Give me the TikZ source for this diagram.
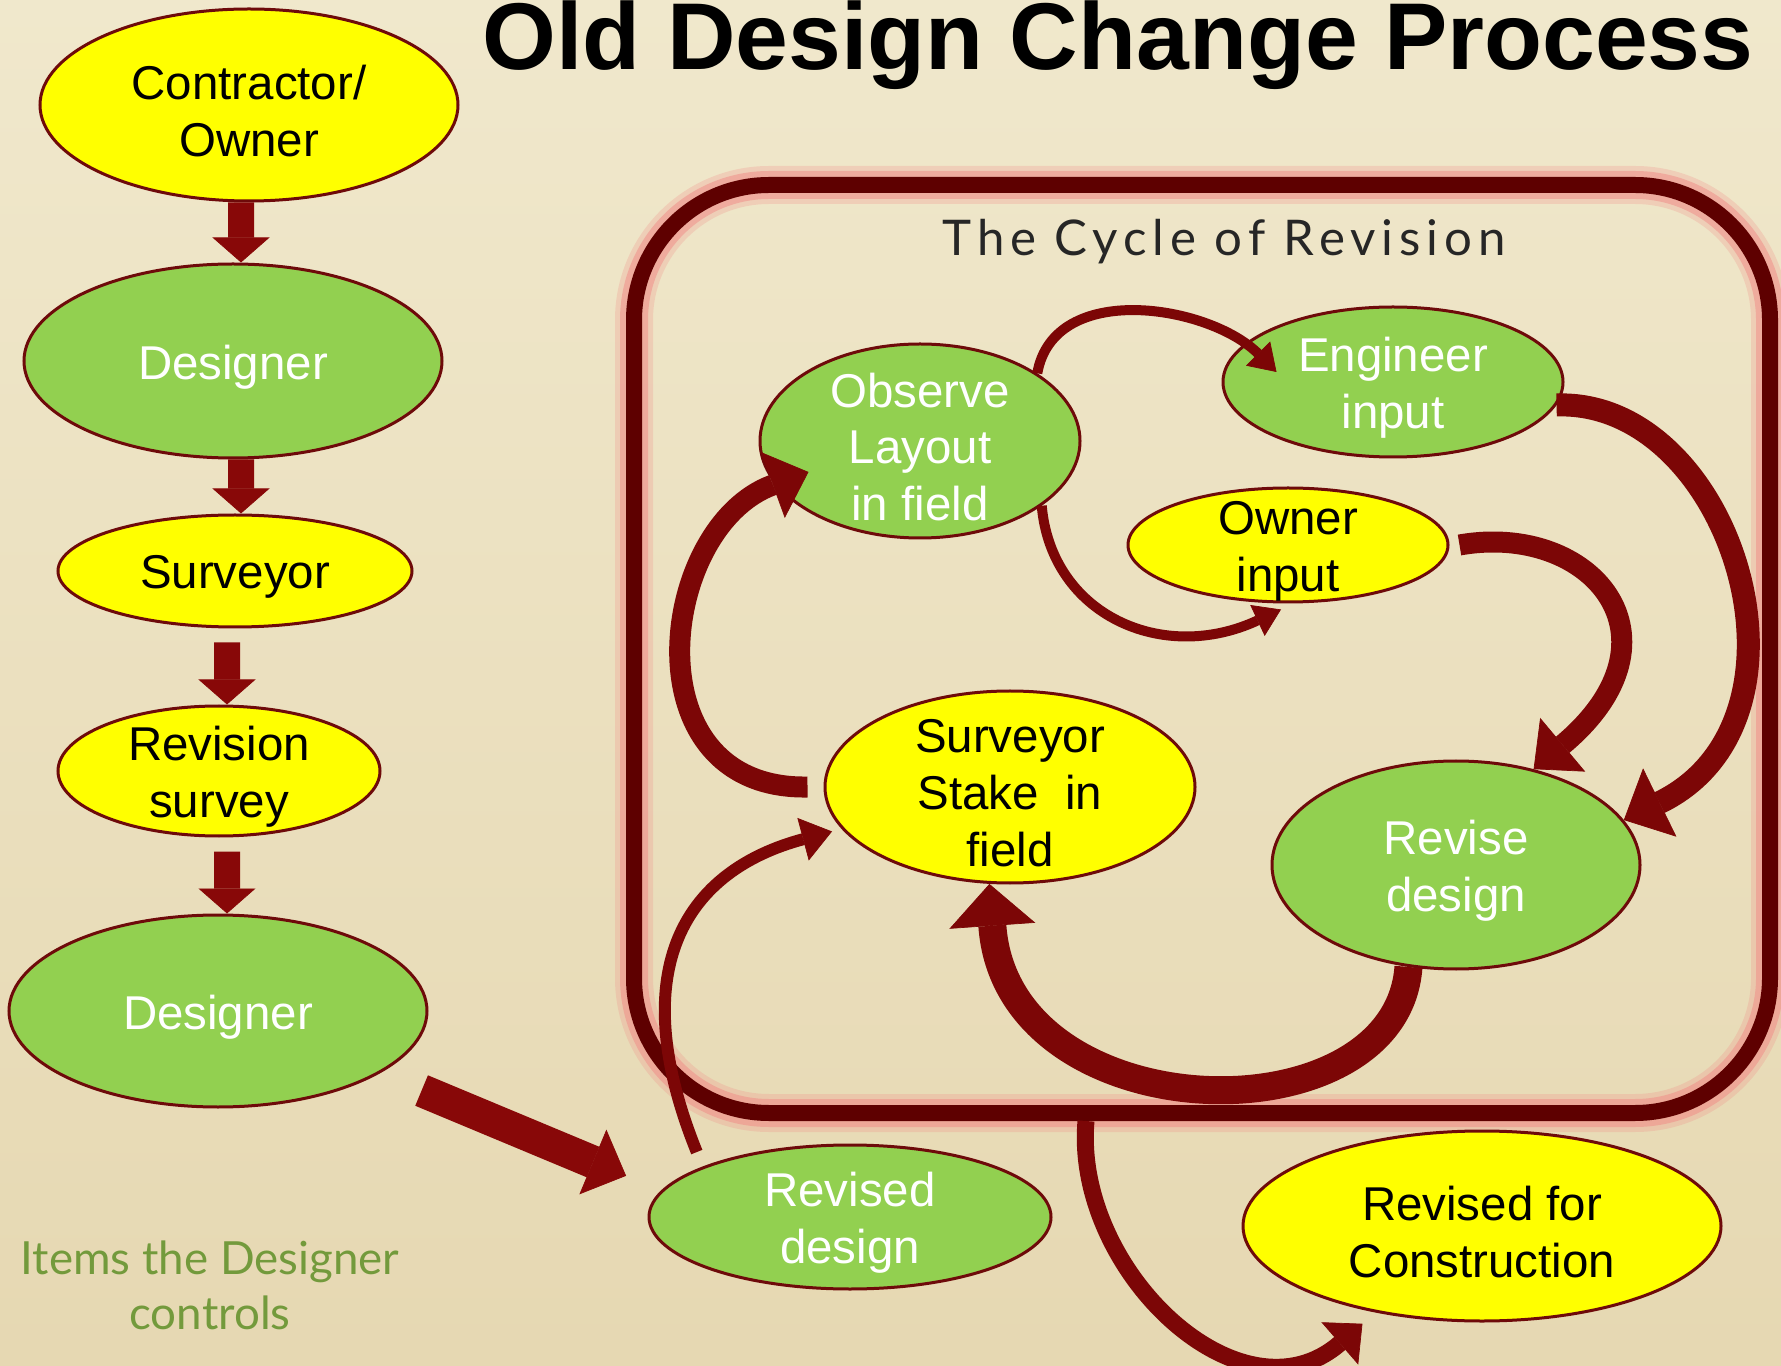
\documentclass[tikz,border=0pt]{standalone}
\usepackage{fontspec}
\setmainfont{Liberation Sans}
\newfontfamily\cyclefont[LetterSpace=12]{Lato}
\newfontfamily\notefont{Lato}
\usetikzlibrary{shapes.geometric,arrows.meta}

\definecolor{leaf}{HTML}{92D050}
\definecolor{lemon}{HTML}{FFFF00}
\definecolor{rimred}{HTML}{6E0A0A}
\definecolor{arrowred}{HTML}{880808}
\definecolor{bendred}{HTML}{7C0606}
\definecolor{framered}{HTML}{5E0000}
\definecolor{halored}{HTML}{F08A86}
\definecolor{notegreen}{HTML}{739A3C}
\definecolor{papertop}{HTML}{F0E8CC}
\definecolor{papermid}{HTML}{F5F0DC}
\definecolor{paperbot}{HTML}{E6D8B2}

\begin{document}
\begin{tikzpicture}[
    every node/.style={font=\fontsize{13.5}{16.2}\selectfont},
    every label/.style={yshift=-0.6mm},
    oval/.style={ellipse, draw=rimred, line width=0.3mm, inner sep=0pt},
    green oval/.style={oval, fill=leaf},
    yellow oval/.style={oval, fill=lemon},
    on green/.style={text=white, align=center},
    on yellow/.style={text=black, align=center},
    down arrow/.style={draw=arrowred, line width=2.6mm,
      -{Triangle[width=5.7mm, length=2.5mm, line width=0.2pt]}},
    thin bend/.style={draw=bendred, line width=1mm,
      -{Triangle[width=3.4mm, length=2.6mm, line width=0.2pt]}},
    thick bend/.style={draw=bendred, line width=2.1mm,
      -{Triangle[width=7mm, length=3.8mm, line width=0.2pt]}}
  ]
  \shade[top color=papertop, middle color=papermid, bottom color=paperbot]
    (0,0) rectangle (17.81,-13.66);
  \useasboundingbox (0,0) rectangle (17.81,-13.66);

  \node[anchor=base, font=\fontsize{27}{32}\selectfont\bfseries] (title)
    at (11.18,-0.70) {Old Design Change Process};

  % left column
  \node[yellow oval, minimum width=4.18cm, minimum height=1.92cm,
    label={[on yellow]center:Contractor/\\Owner}] (cc) at (2.49,-1.05) {};
  \node[green oval, minimum width=4.18cm, minimum height=1.94cm,
    label={[on green]center:Designer}] (des1) at (2.33,-3.61) {};
  \node[yellow oval, minimum width=3.54cm, minimum height=1.12cm,
    label={[on yellow]center:Surveyor}] (surv) at (2.35,-5.71) {};
  \node[yellow oval, minimum width=3.22cm, minimum height=1.30cm,
    label={[on yellow]center:Revision\\survey}] (revsurv) at (2.19,-7.71) {};
  \node[green oval, minimum width=4.18cm, minimum height=1.92cm,
    label={[on green]center:Designer}] (des2) at (2.18,-10.11) {};

  \node[align=center, text=notegreen, font=\notefont\fontsize{13}{15.6}\selectfont]
    (note) at (2.10,-12.85) {Items the Designer\\controls};

  % cycle frame
  \node[draw=framered, line width=1.6mm, rounded corners=1.35cm,
    minimum width=11.36cm, minimum height=9.28cm,
    preaction={draw=halored, line width=3.8mm, opacity=0.25},
    preaction={draw=halored, line width=2.8mm, opacity=0.5}]
    (cyclebox) at (12.02,-6.49) {};
  \node[anchor=base, text=black!85, font=\cyclefont\fontsize{14}{17}\selectfont]
    (cycletitle) at (12.24,-2.56) {The Cycle of Revision};

  \node[green oval, minimum width=3.20cm, minimum height=1.94cm,
    label={[on green]center:Observe\\Layout\\in field}] (obs) at (9.20,-4.41) {};
  \node[green oval, minimum width=3.40cm, minimum height=1.50cm,
    label={[on green]center:Engineer\\input}] (eng) at (13.93,-3.82) {};
  \node[yellow oval, minimum width=3.20cm, minimum height=1.14cm,
    label={[on yellow]center:Owner\\input}] (own) at (12.88,-5.45) {};
  \node[yellow oval, minimum width=3.70cm, minimum height=1.92cm,
    label={[on yellow]center:Surveyor\\Stake \ in\\field}] (stake) at (10.10,-7.87) {};
  \node[green oval, minimum width=3.68cm, minimum height=2.08cm,
    label={[on green]center:Revise\\design}] (rev) at (14.56,-8.65) {};

  % outside the frame
  \node[green oval, minimum width=4.02cm, minimum height=1.44cm,
    label={[on green]center:Revised\\design}] (revd) at (8.50,-12.17) {};
  \node[yellow oval, minimum width=4.78cm, minimum height=1.90cm,
    label={[on yellow]center:Revised for\\Construction}] (rfc) at (14.82,-12.26) {};

  % straight arrows
  \draw[down arrow] ([xshift=-0.8mm]cc.south) -- ([xshift=0.8mm]des1.north);
  \draw[down arrow] ([xshift=0.8mm]des1.south) -- ([xshift=0.6mm]surv.north);
  \draw[down arrow, shorten <=1.4mm] ([xshift=-0.8mm]surv.south) -- ([xshift=0.8mm]revsurv.north);
  \draw[down arrow, shorten <=1.4mm] ([xshift=0.8mm]revsurv.south) -- ([xshift=0.9mm]des2.north);
  \draw[down arrow, line width=3.3mm,
    -{Triangle[width=7mm, length=3.6mm, line width=0.2pt]},
    shorten <=4.5mm, shorten >=3.8mm] (des2.-21) -- (revd.172);

  % the cycle
  \draw[thin bend] (obs.30) .. controls +(80:0.95) and +(135:0.95)
    .. ([xshift=5.5mm,yshift=1mm]eng.west);
  \draw[thin bend] (obs.-28) .. controls +(-85:1.1) and +(205:1.3)
    .. ([xshift=-0.7mm,yshift=-0.6mm]own.south);
  \draw[thick bend, line width=2.3mm,
    -{Triangle[width=7.6mm, length=4mm, line width=0.2pt]}]
    (eng.-8) .. controls +(2:1.75) and +(26:2.3) .. (rev.15);
  \draw[thick bend] ([xshift=1mm]own.east) .. controls +(10:1.34) and +(40:2.04) .. (rev.51);
  \draw[thick bend, line width=2.8mm,
    -{Triangle[width=8.6mm, length=4.2mm, line width=0.2pt]}]
    (rev.-115) .. controls +(-94:1.75) and +(-86:2.5) .. (stake.-102);
  \draw[thick bend] ([xshift=-1.6mm]stake.west) .. controls +(181:1.8) and +(200:1.6)
    .. ([shift={(5mm,-3.1mm)}]obs.west);
  \draw[thin bend, line width=1.2mm,
    -{Triangle[width=4.4mm, length=3mm, line width=0.2pt]}]
    ([shift={(-1mm,1.3mm)}]revd.north west) .. controls +(112:2) and +(195:1.5)
    .. ([xshift=-1.2mm]stake.195);
  \draw[thick bend, line width=1.7mm,
    -{Triangle[width=5.6mm, length=3mm, line width=0.2pt]}]
    ([xshift=-11.6mm]cyclebox.south) .. controls +(-95:1.5) and +(221:1.6)
    .. ([yshift=-1.4mm]rfc.-145);
\end{tikzpicture}
\end{document}
